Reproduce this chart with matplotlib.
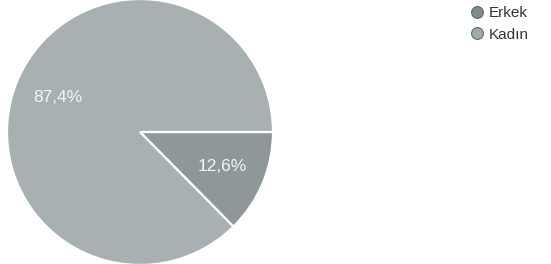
import matplotlib
matplotlib.use("Agg")
import matplotlib.pyplot as plt
from matplotlib.lines import Line2D

categories = ["Erkek", "Kadın"]
values = [12.6, 87.4]
colors = ["#8e989a", "#a9b0b2"]
legend_colors = ["#7f8b8f", "#a0a9ac"]

plt.rcParams['font.family'] = ['Liberation Sans', 'DejaVu Sans']

fig = plt.figure(figsize=(5.51, 2.64), dpi=100)
W, H = 551, 264
cx, cy, r = 140, 132, 133
ax = fig.add_axes([(cx - r) / W, (H - cy - r) / H, 2 * r / W, 2 * r / H])

def fmt(p):
    return f"{p:.1f}".replace(".", ",") + "%"

wedges, texts, autotexts = ax.pie(
    values, colors=colors, startangle=0, counterclock=False,
    autopct=fmt, pctdistance=0.67, radius=1.0,
    wedgeprops=dict(edgecolor="white", linewidth=1.6),
    textprops=dict(color="#f4f4f4", fontsize=12.5))
ax.set_xlim(-1, 1)
ax.set_ylim(-1, 1)
ax.set_aspect("equal")
ax.axis("off")

handles = [Line2D([0], [0], marker="o", linestyle="none", markersize=8.5,
                  markerfacecolor=c, markeredgecolor="#5f6a6e", markeredgewidth=0.8)
           for c in legend_colors]
fig.legend(handles, categories, loc="upper left", bbox_to_anchor=(463 / W, 1 - 0 / H),
           frameon=False, fontsize=11, handletextpad=0.3, labelspacing=0.5,
           handlelength=1.0, borderaxespad=0, labelcolor="#333333")

fig.savefig("out.png", dpi=100)
